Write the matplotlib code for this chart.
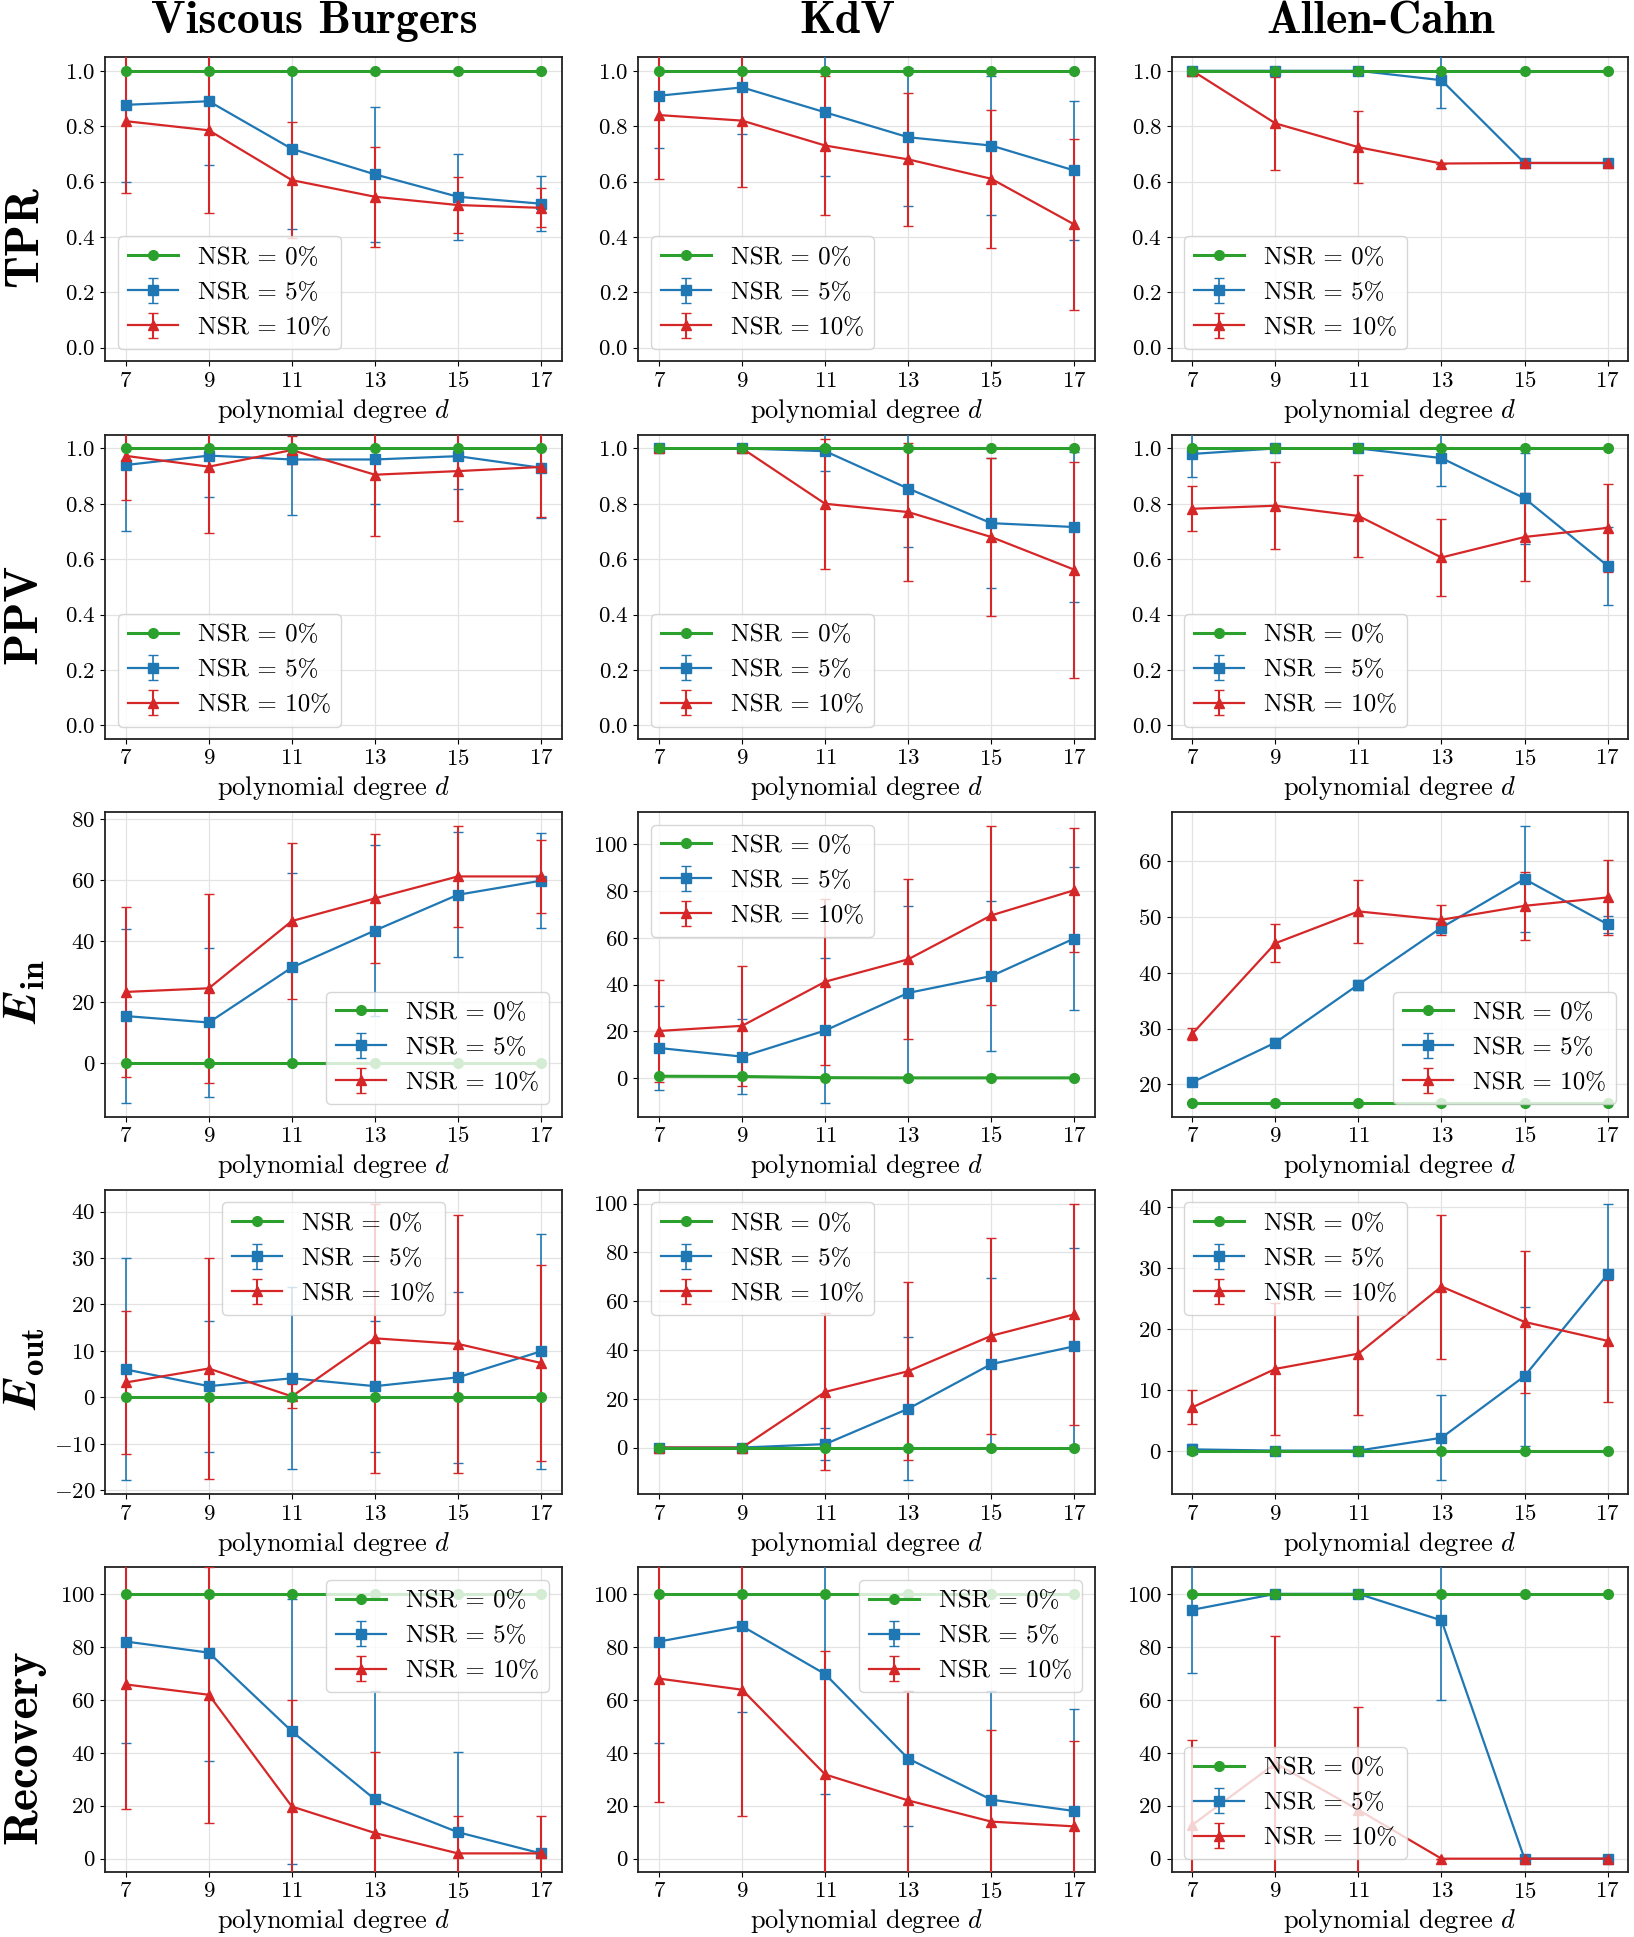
import numpy as np
import matplotlib.pyplot as plt
from matplotlib.ticker import MultipleLocator

plt.rcParams['font.family'] = 'cmr10'
plt.rcParams['mathtext.fontset'] = 'cm'
plt.rcParams['axes.formatter.use_mathtext'] = True
plt.rcParams['axes.unicode_minus'] = True

degrees = [7, 9, 11, 13, 15, 17]
systems = ['Viscous Burgers', 'KdV', 'Allen-Cahn']
row_labels = ['TPR', 'PPV', r'$\mathbfit{E}_{\mathbf{in}}$', r'$\mathbfit{E}_{\mathbf{out}}$', 'Recovery']
nsr_labels = ['NSR = 0%', 'NSR = 5%', 'NSR = 10%']

# ---- TPR ----
tpr_burgers_0 = [1.0, 1.0, 1.0, 1.0, 1.0, 1.0]
tpr_burgers_5 = [0.877, 0.89, 0.718, 0.626, 0.545, 0.52]
tpr_burgers_5_sd = [0.28, 0.23, 0.29, 0.245, 0.155, 0.10]
tpr_burgers_10 = [0.818, 0.785, 0.605, 0.545, 0.515, 0.505]
tpr_burgers_10_sd = [0.26, 0.30, 0.21, 0.18, 0.10, 0.07]

tpr_kdv_0 = [1.0, 1.0, 1.0, 1.0, 1.0, 1.0]
tpr_kdv_5 = [0.91, 0.94, 0.85, 0.76, 0.73, 0.64]
tpr_kdv_5_sd = [0.19, 0.17, 0.23, 0.25, 0.25, 0.25]
tpr_kdv_10 = [0.84, 0.82, 0.73, 0.68, 0.61, 0.445]
tpr_kdv_10_sd = [0.23, 0.24, 0.25, 0.24, 0.25, 0.31]

tpr_ac_0 = [1.0, 1.0, 1.0, 1.0, 1.0, 1.0]
tpr_ac_5 = [1.0, 1.0, 1.0, 0.966, 0.667, 0.667]
tpr_ac_5_sd = [0.0, 0.0, 0.0, 0.10, 0.0, 0.0]
tpr_ac_10 = [1.0, 0.81, 0.724, 0.665, 0.667, 0.667]
tpr_ac_10_sd = [0.0, 0.167, 0.13, 0.0, 0.0, 0.0]

# ---- PPV ----
ppv_burgers_0 = [1.0, 1.0, 1.0, 1.0, 1.0, 1.0]
ppv_burgers_5 = [0.94, 0.974, 0.96, 0.96, 0.972, 0.93]
ppv_burgers_5_sd = [0.24, 0.15, 0.20, 0.16, 0.12, 0.18]
ppv_burgers_10 = [0.973, 0.934, 0.994, 0.905, 0.918, 0.933]
ppv_burgers_10_sd = [0.16, 0.24, 0.05, 0.22, 0.18, 0.18]

ppv_kdv_0 = [1.0, 1.0, 1.0, 1.0, 1.0, 1.0]
ppv_kdv_5 = [1.0, 1.0, 0.99, 0.855, 0.73, 0.716]
ppv_kdv_5_sd = [0.01, 0.005, 0.07, 0.21, 0.235, 0.27]
ppv_kdv_10 = [1.0, 1.0, 0.80, 0.77, 0.68, 0.562]
ppv_kdv_10_sd = [0.0, 0.0, 0.235, 0.25, 0.285, 0.39]

ppv_ac_0 = [1.0, 1.0, 1.0, 1.0, 1.0, 1.0]
ppv_ac_5 = [0.98, 1.0, 1.0, 0.965, 0.82, 0.576]
ppv_ac_5_sd = [0.085, 0.01, 0.01, 0.10, 0.165, 0.14]
ppv_ac_10 = [0.782, 0.793, 0.756, 0.606, 0.68, 0.713]
ppv_ac_10_sd = [0.082, 0.157, 0.148, 0.14, 0.16, 0.16]

# ---- E_in ----
ein_burgers_0 = [0.0, 0.0, 0.0, 0.0, 0.0, 0.0]
ein_burgers_5 = [15.5, 13.4, 31.4, 43.5, 55.2, 59.8]
ein_burgers_5_sd = [28.4, 24.5, 31.0, 28.0, 20.5, 15.6]
ein_burgers_10 = [23.4, 24.6, 46.6, 54.0, 61.2, 61.2]
ein_burgers_10_sd = [27.7, 31.0, 25.6, 21.0, 16.5, 12.0]

ein_kdv_0 = [0.7, 0.6, 0.1, 0.0, 0.0, 0.0]
ein_kdv_5 = [12.8, 9.1, 20.3, 36.4, 43.6, 59.7]
ein_kdv_5_sd = [18.0, 16.1, 31.0, 37.4, 32.3, 30.6]
ein_kdv_10 = [20.1, 22.3, 41.2, 50.8, 69.6, 80.4]
ein_kdv_10_sd = [21.8, 25.6, 35.6, 34.3, 38.3, 26.5]

ein_ac_0 = [16.7, 16.7, 16.7, 16.7, 16.7, 16.7]
ein_ac_5 = [20.4, 27.5, 37.9, 48.1, 56.8, 48.7]
ein_ac_5_sd = [0.5, 0.8, 0.9, 1.0, 9.5, 1.5]
ein_ac_10 = [29.1, 45.3, 51.0, 49.5, 52.0, 53.5]
ein_ac_10_sd = [1.1, 3.4, 5.6, 2.7, 6.1, 6.8]

# ---- E_out ----
eout_burgers_0 = [0.0, 0.0, 0.0, 0.0, 0.0, 0.0]
eout_burgers_5 = [6.0, 2.4, 4.1, 2.4, 4.3, 9.9]
eout_burgers_5_sd = [23.9, 14.1, 19.6, 14.1, 18.4, 25.3]
eout_burgers_10 = [3.2, 6.2, 0.2, 12.7, 11.5, 7.4]
eout_burgers_10_sd = [15.4, 23.8, 2.6, 29.0, 27.8, 21.1]

eout_kdv_0 = [0.0, 0.0, 0.0, 0.0, 0.0, 0.0]
eout_kdv_5 = [0.0, 0.0, 1.4, 15.9, 34.2, 41.5]
eout_kdv_5_sd = [1.5, 1.0, 6.6, 29.4, 35.3, 40.5]
eout_kdv_10 = [0.0, 0.0, 22.8, 31.3, 45.8, 54.6]
eout_kdv_10_sd = [0.0, 0.0, 32.2, 36.5, 40.3, 45.4]

eout_ac_0 = [0.0, 0.0, 0.0, 0.0, 0.0, 0.0]
eout_ac_5 = [0.3, 0.1, 0.1, 2.2, 12.3, 29.0]
eout_ac_5_sd = [0.8, 0.5, 0.5, 7.0, 11.4, 11.6]
eout_ac_10 = [7.2, 13.5, 16.0, 27.0, 21.2, 18.1]
eout_ac_10_sd = [2.8, 10.8, 10.0, 11.8, 11.7, 10.0]

# ---- Recovery ----
rec_burgers_0 = [100, 100, 100, 100, 100, 100]
rec_burgers_5 = [82.0, 77.8, 48.1, 22.4, 10.0, 2.0]
rec_burgers_5_sd = [38.3, 41.1, 50.0, 41.0, 30.3, 0.0]
rec_burgers_10 = [65.8, 61.9, 19.7, 9.7, 2.0, 2.0]
rec_burgers_10_sd = [47.2, 48.4, 40.4, 30.6, 14.0, 14.0]

rec_kdv_0 = [100, 100, 100, 100, 100, 100]
rec_kdv_5 = [82.0, 87.8, 69.7, 37.8, 22.3, 18.0]
rec_kdv_5_sd = [38.3, 32.4, 45.4, 25.6, 41.1, 38.7]
rec_kdv_10 = [68.0, 63.8, 31.8, 22.0, 14.0, 12.2]
rec_kdv_10_sd = [46.5, 47.8, 46.8, 41.4, 34.6, 32.2]

rec_ac_0 = [100, 100, 100, 100, 100, 100]
rec_ac_5 = [94.0, 100, 100, 90.0, 0.0, 0.0]
rec_ac_5_sd = [23.7, 0.0, 0.0, 30.0, 0.0, 0.0]
rec_ac_10 = [12.8, 36.0, 18.4, 0.0, 0.0, 0.0]
rec_ac_10_sd = [32.0, 48.0, 39.0, 0.0, 0.0, 0.0]

panels = [
    [(tpr_burgers_0, tpr_burgers_5, tpr_burgers_5_sd, tpr_burgers_10, tpr_burgers_10_sd),
     (tpr_kdv_0, tpr_kdv_5, tpr_kdv_5_sd, tpr_kdv_10, tpr_kdv_10_sd),
     (tpr_ac_0, tpr_ac_5, tpr_ac_5_sd, tpr_ac_10, tpr_ac_10_sd)],
    [(ppv_burgers_0, ppv_burgers_5, ppv_burgers_5_sd, ppv_burgers_10, ppv_burgers_10_sd),
     (ppv_kdv_0, ppv_kdv_5, ppv_kdv_5_sd, ppv_kdv_10, ppv_kdv_10_sd),
     (ppv_ac_0, ppv_ac_5, ppv_ac_5_sd, ppv_ac_10, ppv_ac_10_sd)],
    [(ein_burgers_0, ein_burgers_5, ein_burgers_5_sd, ein_burgers_10, ein_burgers_10_sd),
     (ein_kdv_0, ein_kdv_5, ein_kdv_5_sd, ein_kdv_10, ein_kdv_10_sd),
     (ein_ac_0, ein_ac_5, ein_ac_5_sd, ein_ac_10, ein_ac_10_sd)],
    [(eout_burgers_0, eout_burgers_5, eout_burgers_5_sd, eout_burgers_10, eout_burgers_10_sd),
     (eout_kdv_0, eout_kdv_5, eout_kdv_5_sd, eout_kdv_10, eout_kdv_10_sd),
     (eout_ac_0, eout_ac_5, eout_ac_5_sd, eout_ac_10, eout_ac_10_sd)],
    [(rec_burgers_0, rec_burgers_5, rec_burgers_5_sd, rec_burgers_10, rec_burgers_10_sd),
     (rec_kdv_0, rec_kdv_5, rec_kdv_5_sd, rec_kdv_10, rec_kdv_10_sd),
     (rec_ac_0, rec_ac_5, rec_ac_5_sd, rec_ac_10, rec_ac_10_sd)],
]

legend_locs = [
    ['lower left', 'lower left', 'lower left'],
    ['lower left', 'lower left', 'lower left'],
    ['lower right', 'upper left', 'lower right'],
    ['upper center', 'upper left', 'upper left'],
    ['upper right', 'upper right', 'lower left'],
]
row_ylims = [(-0.05, 1.05), (-0.05, 1.05), None, None, (-5, 110)]
ytick_steps = [
    [0.2, 0.2, 0.2],
    [0.2, 0.2, 0.2],
    [20, 20, 10],
    [10, 20, 10],
    [20, 20, 20],
]

fig, axes = plt.subplots(5, 3, figsize=(16.34, 19.37), dpi=100)
fig.subplots_adjust(left=0.0643, right=0.9965, bottom=0.0336, top=0.9706,
                    wspace=0.168, hspace=0.24)

for r in range(5):
    for c in range(3):
        ax = axes[r, c]
        y0, y5, s5, y10, s10 = panels[r][c]
        ax.plot(degrees, y0, color='tab:green', marker='o', ms=7, lw=2.2,
                label=nsr_labels[0], zorder=4)
        ax.errorbar(degrees, y5, yerr=s5, color='tab:blue', marker='s', ms=7,
                    lw=1.6, elinewidth=1.2, capsize=3.5, label=nsr_labels[1], zorder=3)
        ax.errorbar(degrees, y10, yerr=s10, color='tab:red', marker='^', ms=7,
                    lw=1.6, elinewidth=1.5, capsize=3.5, label=nsr_labels[2], zorder=3)
        ax.set_xticks(degrees)
        ax.yaxis.set_major_locator(MultipleLocator(ytick_steps[r][c]))
        ax.set_xlabel('polynomial degree $d$', fontsize=19)
        ax.tick_params(labelsize=16.5)
        ax.grid(True, color='#e3e3e3', lw=0.9)
        ax.set_axisbelow(True)
        for sp in ax.spines.values():
            sp.set_linewidth(1.3)
            sp.set_color('#222222')
        if row_ylims[r] is not None:
            ax.set_ylim(*row_ylims[r])
        ax.legend(loc=legend_locs[r][c], fontsize=18)

for c, name in enumerate(systems):
    pos = axes[0, c].get_position()
    fig.text((pos.x0 + pos.x1) / 2 - 19 / 1634, 1 - 33 / 1937, name, ha='center',
             va='baseline', fontsize=33, fontfamily='cmb10')

for r, lab in enumerate(row_labels):
    pos = axes[r, 0].get_position()
    fam = 'cmr10' if lab.startswith('$') else 'cmb10'
    fig.text(0.015, (pos.y0 + pos.y1) / 2 - 27 / 1937, lab, ha='center', va='center',
             rotation=90, fontsize=34, fontfamily=fam)

fig.savefig('out.png', dpi=100)
